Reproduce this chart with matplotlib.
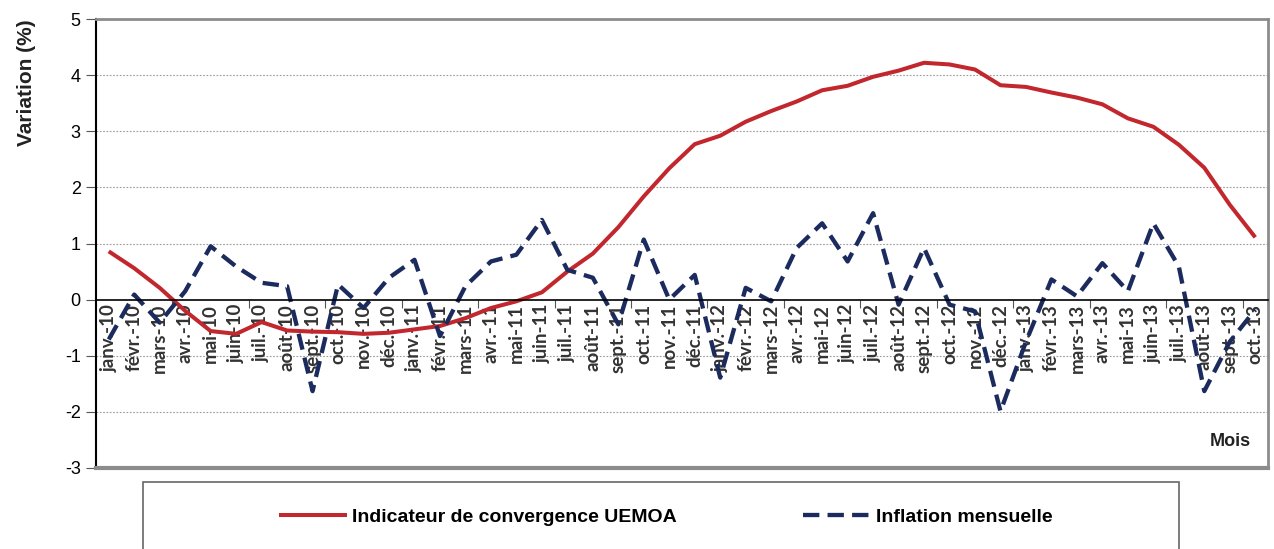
import numpy as np
import matplotlib.pyplot as plt
from matplotlib.patches import Rectangle

months = ["janv.-10", "févr.-10", "mars-10", "avr.-10", "mai-10", "juin-10", "juil.-10",
          "août-10", "sept.-10", "oct.-10", "nov.-10", "déc.-10",
          "janv.-11", "févr.-11", "mars-11", "avr.-11", "mai-11", "juin-11", "juil.-11",
          "août-11", "sept.-11", "oct.-11", "nov.-11", "déc.-11",
          "janv.-12", "févr.-12", "mars-12", "avr.-12", "mai-12", "juin-12", "juil.-12",
          "août-12", "sept.-12", "oct.-12", "nov.-12", "déc.-12",
          "janv.-13", "févr.-13", "mars-13", "avr.-13", "mai-13", "juin-13", "juil.-13",
          "août-13", "sept.-13", "oct.-13"]

convergence = [0.86, 0.56, 0.21, -0.20, -0.56, -0.61, -0.40, -0.55, -0.57, -0.58, -0.61, -0.59,
               -0.53, -0.47, -0.33, -0.15, -0.03, 0.13, 0.50, 0.82, 1.29, 1.84, 2.34, 2.77,
               2.92, 3.17, 3.36, 3.53, 3.73, 3.81, 3.97, 4.08, 4.22, 4.19, 4.10, 3.82,
               3.79, 3.69, 3.60, 3.48, 3.23, 3.08, 2.76, 2.35, 1.69, 1.11]

inflation = [-0.71, 0.09, -0.41, 0.15, 0.95, 0.59, 0.30, 0.24, -1.63, 0.27, -0.15, 0.39,
             0.71, -0.65, 0.24, 0.68, 0.80, 1.42, 0.53, 0.39, -0.44, 1.07, 0.00, 0.44,
             -1.39, 0.21, -0.03, 0.92, 1.36, 0.68, 1.54, -0.09, 0.92, -0.09, -0.21, -1.99,
             -0.75, 0.36, 0.06, 0.65, 0.15, 1.36, 0.59, -1.63, -0.75, -0.18]

RED = "#C1272D"
NAVY = "#1C2B5E"

plt.rcParams['font.family'] = ['Liberation Sans', 'DejaVu Sans']
plt.rcParams['axes.unicode_minus'] = False

fig = plt.figure(figsize=(12.74, 5.49), dpi=100)
ax = fig.add_axes([96 / 1274, 1 - 468 / 549, (1268 - 96) / 1274, (468 - 19) / 549])

x = np.arange(len(months))
l1, = ax.plot(x, convergence, color=RED, lw=2.9, solid_capstyle='butt',
              label="Indicateur de convergence UEMOA")
l2, = ax.plot(x, inflation, color=NAVY, lw=3.1, dashes=(3.8, 1.9),
              label="Inflation mensuelle")

ax.set_xlim(-0.5, len(months) - 0.5)
ax.set_ylim(-3, 5)
ax.set_yticks(range(-3, 6))
for v in range(-3, 6):
    if v != 0:
        ax.axhline(v, color="#9a9a9a", lw=0.8, ls=(0, (1.5, 1.5)), zorder=0)

ax.spines['bottom'].set_position(('data', 0))
ax.spines['bottom'].set_color('black')
ax.spines['bottom'].set_linewidth(1.2)
ax.spines['left'].set_color('black')
ax.spines['left'].set_linewidth(1.5)
for s in ('top', 'right'):
    ax.spines[s].set_color('#8c8c8c')
    ax.spines[s].set_linewidth(2)
ax.axhline(-3, color='#8c8c8c', lw=3, clip_on=False, zorder=5)

ax.set_xticks(x)
ax.set_xticklabels(months, rotation=90, fontsize=13.5, fontweight='bold',
                   family=['Lato', 'DejaVu Sans'], color='#333333', va='top')
ax.tick_params(axis='x', which='major', length=0, pad=3)
ax.set_xticks(np.arange(2.5, len(months), 3), minor=True)
ax.tick_params(axis='x', which='minor', length=6, width=0.8, color='#555555', direction='out')
ax.tick_params(axis='y', labelsize=13, length=7, width=0.8, color='#555555', pad=4)

ax.set_ylabel("Variation (%)", fontsize=15, fontweight='bold', color='#222222')
ax.yaxis.set_label_coords(-60 / 1172, (468 - 83) / 449)
ax.text(0.985, 0.06, "Mois", transform=ax.transAxes, ha='right', va='center',
        fontsize=13, fontweight='bold', color='#222222')

fig.patches.append(Rectangle((143 / 1274, -0.05), (1179 - 143) / 1274, 0.05 + 1 - 482 / 549,
                             transform=fig.transFigure, fill=False, ec='#666666', lw=1.2))
fig.legend(handles=[l1, l2], loc='center', bbox_to_anchor=(666 / 1274, 1 - 517 / 549),
           ncol=2, frameon=False, handlelength=3.5, handletextpad=0.25,
           columnspacing=6.5, prop={'weight': 'bold', 'size': 14})

fig.savefig("out.png", dpi=100)
